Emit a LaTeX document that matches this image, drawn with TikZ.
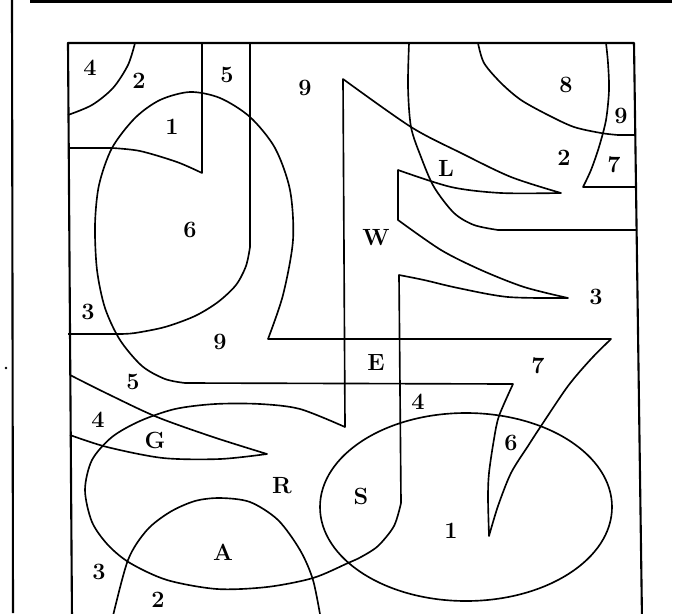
\documentclass[tikz,border=0pt]{standalone}
\usepackage{tikz}

\begin{document}
\begin{tikzpicture}[x=0.03cm, y=-0.03cm, line width=1.4pt, line join=round,
  zone/.style={font=\fontsize{20}{22}\selectfont\bfseries, inner sep=0pt},
  rim/.style={line width=1.8pt}]
  \useasboundingbox (0,0) rectangle (682,613);
  \clip (0,0) rectangle (682,613);
  % outer frame
  \draw[line width=2.4pt] (30,1.5) -- (672,1.5);
  \draw[rim] (12,0) -- (13,613);
  \fill (6,368) circle[radius=1.4];
  % inner frame
  \draw[rim] (72,620) -- (68,43) -- (634,43) -- (642,620);
  % top left corner pieces
  \draw plot[smooth] coordinates {(135,43) (128,65) (113,88) (92,105) (68,115)};
  \draw (202,43) -- (202,173) -- plot[smooth] coordinates {(202,173) (177,162) (140,151) (112,148)} -- (68,148);
  \draw (250,43) -- (250,247) -- plot[smooth] coordinates {(250,247) (246,266) (236,285) (218,302) (195,316) (165,327) (135,333) (120,334)} -- (68,334);
  % big loop with the thorn on the right
  \draw plot[smooth] coordinates {(268,339) (283,295) (293,240) (290,190) (275,148) (250,117) (220,98) (190,92) (160,100) (135,118)
      (112,148) (99,185) (95,225) (97,270) (105,308) (120,340) (142,366) (165,379) (185,383)}
    -- (513,384)
    -- plot[smooth] coordinates {(513,384) (499,416) (494,439) (489,473) (488,498) (489,536)}
    -- plot[smooth] coordinates {(489,536) (498,506) (511,473) (528,446) (541,426) (568,386) (591,359) (611,339)}
    -- cycle;
  % W arms and R loop
  \draw (343,79) -- plot[smooth] coordinates {(343,79) (411,127) (461,153) (511,177) (561,193)}
    -- plot[smooth] coordinates {(561,193) (501,193) (451,187) (398,170)}
    -- (398,220)
    -- plot[smooth] coordinates {(398,220) (441,250) (481,270) (524,287) (568,298)}
    -- plot[smooth] coordinates {(568,298) (508,297) (458,288) (424,280) (399,275)}
    -- (401,503)
    -- plot[smooth] coordinates {(401,503) (394,526) (378,546) (361,557) (348,563) (313,578) (267,587) (217,589) (167,580)
      (130,563) (108,545) (92,522) (85,490) (92,460) (112,437) (140,421) (175,409) (215,404) (260,404) (300,409) (345,427)}
    -- cycle;
  % G thorn
  \draw plot[smooth] coordinates {(70,375) (110,395) (157,417) (213,437) (267,454)}
    -- plot[smooth] coordinates {(267,454) (220,459) (163,458) (107,447) (70,435)};
  % ellipse and arch at the bottom
  \draw (466,507) ellipse[x radius=146, y radius=94];
  \draw plot[smooth] coordinates {(112,620) (128,560) (147,530) (170,512) (195,501) (220,498) (250,502) (278,520) (300,550) (313,580) (321,620)};
  % top right curves
  \draw plot[smooth] coordinates {(409,43) (408,87) (411,127) (421,157) (434,187) (454,213) (474,225) (498,230)} -- (637,230);
  \draw plot[smooth] coordinates {(478,43) (484,63) (501,83) (521,100) (548,115) (574,127) (601,133) (618,135)} -- (635,135);
  \draw plot[smooth] coordinates {(606,43) (608,63) (609,90) (606,120) (599,147) (591,170) (583,187)} -- (636,187);
  % region labels
  \node[zone] (n4a) at (90,68) {4};
  \node[zone] (n2a) at (139,81) {2};
  \node[zone] (n1a) at (172,127) {1};
  \node[zone] (n5a) at (227,75) {5};
  \node[zone] (n9a) at (305,88) {9};
  \node[zone] (n6a) at (190,230) {6};
  \node[zone] (n3a) at (88,312) {3};
  \node[zone] (n9b) at (220,342) {9};
  \node[zone] (n5b) at (133,382) {5};
  \node[zone] (n4b) at (98,420) {4};
  \node[zone] (lG) at (155,440) {G};
  \node[zone] (lR) at (282,486) {R};
  \node[zone] (lA) at (223,552) {A};
  \node[zone] (n3b) at (99,572) {3};
  \node[zone] (n2b) at (158,600) {2};
  \node[zone] (lS) at (361,496) {S};
  \node[zone] (n1b) at (451,531) {1};
  \node[zone] (n6b) at (511,443) {6};
  \node[zone] (n4c) at (418,402) {4};
  \node[zone] (lE) at (376,363) {E};
  \node[zone] (n7a) at (538,366) {7};
  \node[zone] (lW) at (376,238) {W};
  \node[zone] (lL) at (446,168) {L};
  \node[zone] (n8a) at (566,85) {8};
  \node[zone] (n9c) at (621,116) {9};
  \node[zone] (n2c) at (564,158) {2};
  \node[zone] (n7b) at (614,165) {7};
  \node[zone] (n3c) at (596,297) {3};
\end{tikzpicture}
\end{document}
